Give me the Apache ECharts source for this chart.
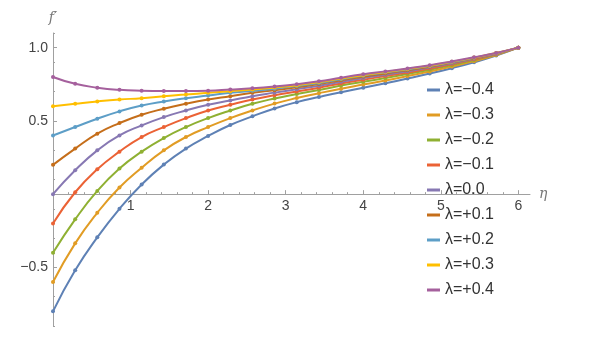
<!DOCTYPE html>
<html>
<head>
<meta charset="utf-8">
<script src="https://cdn.jsdelivr.net/npm/echarts@6/dist/echarts.min.js"></script>
<style>
  html, body { margin: 0; padding: 0; background: #fff; }
  #chart { width: 599px; height: 342px; }
</style>
</head>
<body>
<div id="chart"></div>
<script>
// sample points along eta
const eta = [0, 0.286, 0.571, 0.857, 1.143, 1.429, 1.714, 2.0, 2.286, 2.571, 2.857,
  3.143, 3.429, 3.714, 4.0, 4.286, 4.571, 4.857, 5.143, 5.429, 5.714, 6.0];

const names = ['λ=−0.4', 'λ=−0.3', 'λ=−0.2', 'λ=−0.1', 'λ=0.0', 'λ=+0.1', 'λ=+0.2', 'λ=+0.3', 'λ=+0.4'];
const colors = ['#5e81b5', '#e19c24', '#8fb032', '#eb6235', '#8778b3', '#c56e1a', '#5d9ec7', '#ffbf00', '#a5609d'];

// f' values, one array per lambda
const lamM04 = [-0.80, -0.52, -0.295, -0.10, 0.066, 0.202, 0.311, 0.397, 0.472, 0.531, 0.585,
  0.628, 0.663, 0.696, 0.726, 0.757, 0.789, 0.823, 0.860, 0.900, 0.946, 1.0];
const lamM03 = [-0.60, -0.336, -0.127, 0.045, 0.18, 0.299, 0.39, 0.458, 0.519, 0.571, 0.618,
  0.656, 0.689, 0.720, 0.748, 0.776, 0.806, 0.837, 0.871, 0.908, 0.950, 1.0];
const lamM02 = [-0.40, -0.172, 0.022, 0.175, 0.29, 0.383, 0.458, 0.519, 0.571, 0.617, 0.653,
  0.683, 0.711, 0.741, 0.767, 0.793, 0.820, 0.849, 0.881, 0.915, 0.954, 1.0];
const lamM01 = [-0.20, 0.013, 0.17, 0.29, 0.39, 0.458, 0.519, 0.571, 0.610, 0.646, 0.675,
  0.701, 0.727, 0.755, 0.781, 0.806, 0.830, 0.857, 0.888, 0.920, 0.957, 1.0];
const lam00 = [0.0, 0.163, 0.299, 0.401, 0.469, 0.526, 0.571, 0.610, 0.639, 0.669, 0.693,
  0.716, 0.740, 0.767, 0.792, 0.815, 0.839, 0.864, 0.893, 0.924, 0.959, 1.0];
const lamP01 = [0.2, 0.311, 0.413, 0.485, 0.542, 0.583, 0.617, 0.646, 0.669, 0.692, 0.710,
  0.729, 0.752, 0.778, 0.802, 0.824, 0.846, 0.870, 0.898, 0.928, 0.961, 1.0];
const lamP02 = [0.4, 0.458, 0.515, 0.565, 0.605, 0.633, 0.655, 0.673, 0.692, 0.705, 0.720,
  0.738, 0.759, 0.785, 0.809, 0.830, 0.851, 0.874, 0.901, 0.931, 0.962, 1.0];
const lamP03 = [0.6, 0.617, 0.633, 0.646, 0.655, 0.669, 0.680, 0.692, 0.703, 0.714, 0.728,
  0.744, 0.765, 0.790, 0.813, 0.834, 0.855, 0.877, 0.904, 0.932, 0.963, 1.0];
const lamP04 = [0.8, 0.753, 0.727, 0.712, 0.706, 0.704, 0.704, 0.706, 0.714, 0.723, 0.735,
  0.750, 0.770, 0.795, 0.818, 0.838, 0.858, 0.880, 0.906, 0.934, 0.964, 1.0];

const allValues = [lamM04, lamM03, lamM02, lamM01, lam00, lamP01, lamP02, lamP03, lamP04];

// tick marks
const xMajor = [1, 2, 3, 4, 5, 6];
const yMajor = [-0.5, 0.5, 1.0];
const xMinor = [];
for (let i = 1; i <= 30; i++) {
  if (i % 5 !== 0) xMinor.push(+(i * 0.2).toFixed(1));
}
const yMinor = [];
for (let i = -9; i <= 11; i++) {
  if (i % 5 !== 0) yMinor.push(+(i * 0.1).toFixed(1));
}

const axisColor = '#a0a0a0';
const labelColor = '#444';
const gridBox = { left: 53, right: 69, top: 33, bottom: 16 };
const yMin = -0.9;
const yMax = 1.1;
// distance from the grid bottom up to y = 0, for the major-tick x axis
const zeroOffset = -(342 - gridBox.top - gridBox.bottom) * (0 - yMin) / (yMax - yMin);

const chart = echarts.init(document.getElementById('chart'));

const series = allValues.map((vals, i) => ({
  name: names[i],
  type: 'line',
  xAxisIndex: 0,
  yAxisIndex: 0,
  data: vals.map((v, j) => [eta[j], v]),
  smooth: true,
  symbol: 'circle',
  symbolSize: 4,
  lineStyle: { width: 2, color: colors[i] },
  itemStyle: { color: colors[i] },
  z: 3 + i,
}));

chart.setOption({
  animation: false,
  backgroundColor: '#fff',
  textStyle: { fontFamily: 'Liberation Sans, Arial, sans-serif' },
  grid: [
    Object.assign({}, gridBox),
    Object.assign({}, gridBox),
  ],
  xAxis: [
    {
      // minor ticks + axis line
      gridIndex: 0,
      type: 'value',
      min: 0,
      max: 6.15,
      axisLine: { onZero: true, lineStyle: { color: axisColor, width: 1 } },
      axisTick: { inside: true, length: 2, customValues: xMinor, lineStyle: { color: axisColor } },
      axisLabel: { show: false },
      splitLine: { show: false },
      name: 'η',
      nameLocation: 'end',
      nameGap: 9,
      nameTextStyle: { color: '#777', fontSize: 14, fontStyle: 'italic', fontFamily: 'DejaVu Serif, serif', verticalAlign: 'middle' },
    },
    {
      // major ticks + labels
      gridIndex: 1,
      type: 'value',
      position: 'bottom',
      offset: zeroOffset,
      min: 0,
      max: 6.15,
      axisLine: { show: false, onZero: false },
      axisTick: { inside: true, length: 4, customValues: xMajor, lineStyle: { color: axisColor } },
      axisLabel: { customValues: xMajor, color: labelColor, fontSize: 14, margin: 5 },
      splitLine: { show: false },
    },
  ],
  yAxis: [
    {
      gridIndex: 0,
      type: 'value',
      min: yMin,
      max: yMax,
      axisLine: { show: true, onZero: true, lineStyle: { color: axisColor, width: 1 } },
      axisTick: { show: true, inside: true, length: 2, customValues: yMinor, lineStyle: { color: axisColor } },
      axisLabel: { show: false },
      splitLine: { show: false },
      name: 'f′',
      nameLocation: 'end',
      nameGap: 8,
      nameTextStyle: { color: '#777', fontSize: 14, fontStyle: 'italic', fontFamily: 'DejaVu Serif, serif', align: 'center' },
    },
    {
      gridIndex: 1,
      type: 'value',
      position: 'left',
      min: yMin,
      max: yMax,
      axisLine: { show: false, onZero: false },
      axisTick: { show: true, inside: true, length: 4, customValues: yMajor, lineStyle: { color: axisColor } },
      axisLabel: {
        customValues: yMajor,
        color: labelColor,
        fontSize: 14,
        margin: 5,
        formatter: (v) => v.toFixed(1).replace('-', '−'),
      },
      splitLine: { show: false },
    },
  ],
  legend: {
    orient: 'vertical',
    left: 427,
    top: 82,
    padding: 0,
    icon: 'rect',
    itemWidth: 13,
    itemHeight: 3,
    itemGap: 9,
    textStyle: { color: '#333', fontSize: 16, lineHeight: 16 },
    data: names,
  },
  series: series,
});
</script>
</body>
</html>
